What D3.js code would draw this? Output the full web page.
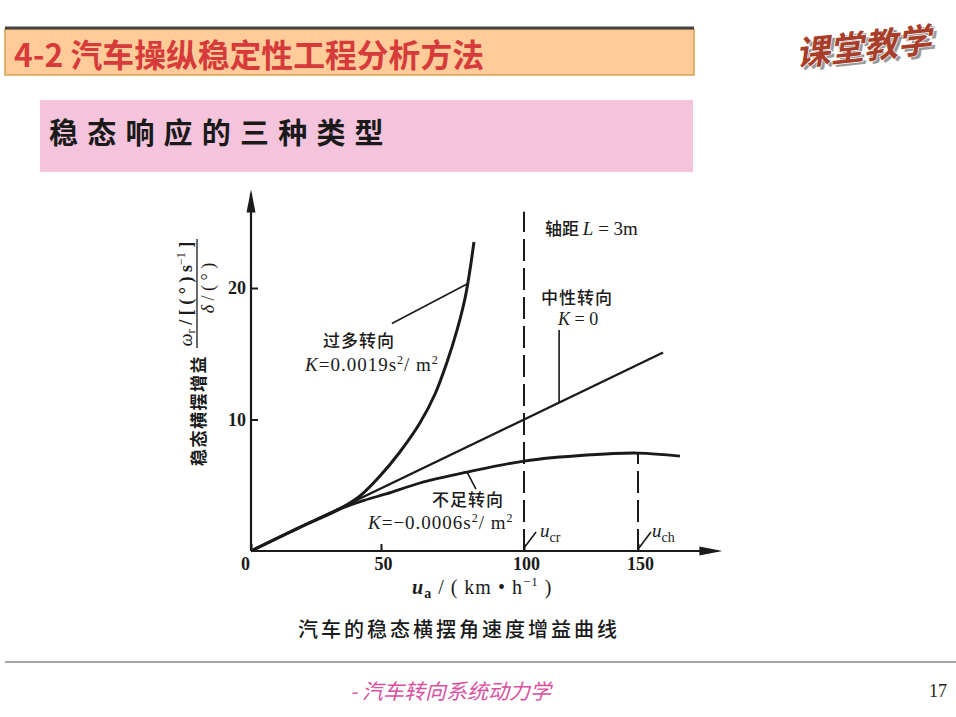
<!DOCTYPE html>
<html>
<head>
<meta charset="utf-8">
<script src="https://cdn.jsdelivr.net/npm/d3@7"></script>
<style>
body { margin: 0; background: #fff; }
svg { display: block; }
</style>
</head>
<body>
<div id="chart"></div>
<script>
// tick labels
var speedTicks = [0, 50, 100, 150];
var gainTicks = [10, 20];

// curves: speed u_a (km/h), gain (1/s)
var overSpeed = [0, 18.8, 34.2, 41.9, 49.6, 56.6, 63.6, 68.9, 73.1, 76.6, 79.4, 81.1, 82.5];
var overGain = [0, 1.8, 3.2, 4.18, 5.70, 7.53, 9.73, 11.94, 14.37, 16.81, 19.24, 21.37, 23.5];
var neutralSpeed = [0, 161];
var neutralGain = [0, 15.1];
var underSpeed = [0, 18.8, 34.2, 43.5, 52.1, 63.6, 80.1, 100, 127.6, 150, 168.4];
var underGain = [0, 1.8, 3.2, 3.85, 4.36, 5.17, 6.0, 6.84, 7.30, 7.45, 7.22];

// critical / characteristic speed markers
var critSpeed = 100;
var charSpeed = 150;
var critTop = 25.8;
var charTop = 7.45;

var width = 956, height = 717;
var ink = "#1a1a1a";
var cjk = "'Noto Sans CJK SC', 'Noto Sans', sans-serif";
var serif = "'Liberation Serif', 'DejaVu Serif', serif";

var svg = d3.select("#chart").append("svg")
    .attr("width", width)
    .attr("height", height);

/*
 * slide decoration
 */
svg.append("rect").attr("x", 5).attr("y", 29).attr("width", 689).attr("height", 46)
    .attr("fill", "#ffcc99").attr("stroke", "#d9a04e").attr("stroke-width", 1.5);
svg.append("line").attr("x1", 5).attr("x2", 694).attr("y1", 28).attr("y2", 28)
    .attr("stroke", "#444").attr("stroke-width", 3);
svg.append("text").attr("x", 14).attr("y", 67)
    .attr("textLength", 470).attr("lengthAdjust", "spacingAndGlyphs")
    .style("font-family", cjk).style("font-weight", "bold").style("font-size", "32px")
    .style("fill", "#d63a3a")
    .text("4-2 汽车操纵稳定性工程分析方法");

// logo
var logo = svg.append("g").attr("transform", "translate(797,66) rotate(-6)");
logo.append("text").attr("x", 3).attr("y", 3)
    .style("font-family", cjk).style("font-weight", "bold").style("font-size", "34px")
    .style("font-style", "italic").style("fill", "#9a9a9a")
    .text("课堂教学");
logo.append("text")
    .style("font-family", cjk).style("font-weight", "bold").style("font-size", "34px")
    .style("font-style", "italic").style("fill", "#a83e2a")
    .style("stroke", "#fff").style("stroke-width", 1.2).style("paint-order", "stroke")
    .text("课堂教学");

svg.append("rect").attr("x", 40).attr("y", 100).attr("width", 653).attr("height", 72)
    .attr("fill", "#f4c4dc");
svg.append("text").attr("x", 49).attr("y", 144)
    .style("font-family", cjk).style("font-weight", "bold").style("font-size", "29px")
    .style("letter-spacing", "9.2px").style("fill", "#1a1a1a")
    .text("稳态响应的三种类型");

svg.append("line").attr("x1", 5).attr("x2", 956).attr("y1", 662).attr("y2", 662)
    .attr("stroke", "#8a8a8a").attr("stroke-width", 1.5);
svg.append("text").attr("x", 350).attr("y", 699)
    .style("font-family", cjk).style("font-style", "italic").style("font-size", "21px")
    .style("fill", "#d9509e")
    .text("- 汽车转向系统动力学");
svg.append("text").attr("x", 929).attr("y", 697)
    .style("font-family", serif).style("font-size", "18px").style("fill", "#222")
    .text("17");

/*
 * chart
 */
// the printed axis is hand drawn, so the speed scale is piecewise
var x = d3.scaleLinear().domain(speedTicks).range([251, 381, 524, 638]);
var y = d3.scaleLinear().domain([0, 20]).range([551, 288]);

var chart = svg.append("g");

var line = d3.line()
    .x(function(d) { return x(d[0]); })
    .y(function(d) { return y(d[1]); });
var smooth = d3.line()
    .x(function(d) { return x(d[0]); })
    .y(function(d) { return y(d[1]); })
    .curve(d3.curveCatmullRom.alpha(0.5));

function zipSeries(us, gs) {
    return us.map(function(u, i) { return [u, gs[i]]; });
}

// axes lines with arrows
var xEnd = 187, yEnd = 27.5;
chart.append("line")
    .attr("x1", x(0)).attr("y1", y(0)).attr("x2", x(xEnd) - 4).attr("y2", y(0))
    .attr("stroke", ink).attr("stroke-width", 2.2);
chart.append("line")
    .attr("x1", x(0)).attr("y1", y(0)).attr("x2", x(0)).attr("y2", y(yEnd) + 4)
    .attr("stroke", ink).attr("stroke-width", 2.2);
chart.append("path")
    .attr("d", "M" + x(xEnd) + "," + y(0) + "l-23,-4.5l0,9z")
    .attr("fill", ink);
chart.append("path")
    .attr("d", "M" + x(0) + "," + y(yEnd) + "l-4.5,23l9,0z")
    .attr("fill", ink);

// tick marks and labels
var xAxis = d3.axisBottom(x).tickValues(speedTicks).tickSizeInner(-7).tickSizeOuter(0)
    .tickPadding(6).tickFormat(d3.format("d"));
var gx = chart.append("g").attr("transform", "translate(0," + y(0) + ")").call(xAxis);
gx.select(".domain").remove();
gx.selectAll(".tick line").attr("stroke", ink).attr("stroke-width", 2);
gx.selectAll(".tick text")
    .attr("dx", function(d) { return d === 0 ? -6 : 2; })
    .style("font-family", serif).style("font-weight", "bold").style("font-size", "18px")
    .style("fill", ink);

var yAxis = d3.axisLeft(y).tickValues(gainTicks).tickSizeInner(-7).tickSizeOuter(0)
    .tickPadding(5).tickFormat(d3.format("d"));
var gy = chart.append("g").attr("transform", "translate(" + x(0) + ",0)").call(yAxis);
gy.select(".domain").remove();
gy.selectAll(".tick line").attr("stroke", ink).attr("stroke-width", 2);
gy.selectAll(".tick text")
    .style("font-family", serif).style("font-weight", "bold").style("font-size", "18px")
    .style("fill", ink);

// dashed speed markers
chart.append("path")
    .attr("d", line([[critSpeed, 0], [critSpeed, critTop]]))
    .attr("fill", "none").attr("stroke", ink).attr("stroke-width", 2)
    .attr("stroke-dasharray", "22,7");
chart.append("path")
    .attr("d", line([[charSpeed, 0], [charSpeed, charTop]]))
    .attr("fill", "none").attr("stroke", ink).attr("stroke-width", 2)
    .attr("stroke-dasharray", "22,7");

// response curves
chart.append("path").attr("d", line(zipSeries(neutralSpeed, neutralGain)))
    .attr("fill", "none").attr("stroke", ink).attr("stroke-width", 2.3);
chart.append("path").attr("d", smooth(zipSeries(underSpeed, underGain)))
    .attr("fill", "none").attr("stroke", ink).attr("stroke-width", 2.8);
chart.append("path").attr("d", smooth(zipSeries(overSpeed, overGain)))
    .attr("fill", "none").attr("stroke", ink).attr("stroke-width", 3);

// leader lines (data units)
var leaders = [
    [[53.8, 17.3], [80.1, 20.3]],
    [[115.4, 16.8], [115.4, 11.25]],
    [[80.1, 6.0], [83.2, 4.71]],
    [[100, 0.23], [105.3, 1.44]],
    [[150.4, 0.23], [155.7, 1.44]]
];
chart.selectAll(".leader").data(leaders).enter().append("path")
    .attr("class", "leader")
    .attr("d", function(d) { return line(d); })
    .attr("stroke", ink).attr("stroke-width", 1.6);

// annotation text helpers
function cjkLabel(px, py, str, anchor) {
    return chart.append("text").attr("x", px).attr("y", py)
        .attr("text-anchor", anchor || "middle")
        .style("font-family", cjk).style("font-weight", 500).style("font-size", "17px")
        .style("letter-spacing", "1px")
        .style("fill", ink).text(str);
}
function kLabel(px, py, value) {
    var t = chart.append("text").attr("x", px).attr("y", py)
        .style("font-family", serif).style("font-size", "19px").style("letter-spacing", "1px")
        .style("fill", ink);
    t.append("tspan").style("font-style", "italic").text("K");
    t.append("tspan").text("=" + value + "s");
    t.append("tspan").attr("dy", -7).style("font-size", "12px").text("2");
    t.append("tspan").attr("dy", 7).text("/ m");
    t.append("tspan").attr("dy", -7).style("font-size", "12px").text("2");
    return t;
}

cjkLabel(359, 347, "过多转向");
kLabel(305, 371, "0.0019");

cjkLabel(468, 506, "不足转向");
kLabel(368, 529, "−0.0006");

cjkLabel(577, 304, "中性转向");
var k0 = chart.append("text").attr("x", 558).attr("y", 325)
    .style("font-family", serif).style("font-size", "18px").style("fill", ink);
k0.append("tspan").style("font-style", "italic").text("K");
k0.append("tspan").text(" = 0");

var wb = chart.append("text").attr("x", 545).attr("y", 235)
    .style("font-family", cjk).style("font-weight", 500).style("font-size", "17px")
    .style("fill", ink);
wb.append("tspan").text("轴距 ");
wb.append("tspan").style("font-family", serif).style("font-style", "italic")
    .style("font-size", "19px").text("L");
wb.append("tspan").style("font-family", serif).style("font-size", "19px").text(" = 3m");

function speedMark(px, py, sub) {
    var t = chart.append("text").attr("x", px).attr("y", py)
        .style("font-family", serif).style("fill", ink);
    t.append("tspan").style("font-style", "italic").style("font-size", "19px").text("u");
    t.append("tspan").attr("dy", 5).style("font-size", "14px").text(sub);
}
speedMark(540, 537, "cr");
speedMark(652, 537, "ch");

// x axis title
var xt = chart.append("text").attr("x", 412).attr("y", 594)
    .style("font-family", serif).style("font-size", "20px").style("letter-spacing", "1px")
    .style("fill", ink);
xt.append("tspan").style("font-style", "italic").style("font-weight", "bold").text("u");
xt.append("tspan").attr("dy", 4).style("font-size", "14px").style("font-weight", "bold").text("a");
xt.append("tspan").attr("dy", -4).text(" / ( km • h");
xt.append("tspan").attr("dy", -8).style("font-size", "13px").text("−1");
xt.append("tspan").attr("dy", 8).text(" )");

// y axis title, rotated
var yt = chart.append("g").attr("transform", "translate(198,466) rotate(-90)");
yt.append("text").attr("x", 0).attr("y", 7)
    .style("font-family", cjk).style("font-weight", "bold").style("font-size", "17px")
    .style("letter-spacing", "1.5px").style("fill", ink)
    .text("稳态横摆增益");
var num = yt.append("text").attr("x", 172).attr("y", -6).attr("text-anchor", "middle")
    .style("font-family", serif).style("font-size", "18px").style("fill", ink);
num.append("tspan").style("font-style", "italic").text("ω");
num.append("tspan").attr("dy", 3).style("font-size", "13px").text("r");
num.append("tspan").attr("dy", -3).style("font-weight", "bold").text(" / [ ( ° ) s");
num.append("tspan").attr("dy", -7).style("font-size", "12px").text("−1");
num.append("tspan").attr("dy", 7).style("font-weight", "bold").text(" ]");
yt.append("line").attr("x1", 118).attr("x2", 227).attr("y1", -1).attr("y2", -1)
    .attr("stroke", ink).attr("stroke-width", 1.3);
var den = yt.append("text").attr("x", 178).attr("y", 16).attr("text-anchor", "middle")
    .style("font-family", serif).style("font-size", "18px").style("fill", ink);
den.append("tspan").style("font-style", "italic").text("δ");
den.append("tspan").text(" / ( ° )");

// caption
chart.append("text").attr("x", 459).attr("y", 637).attr("text-anchor", "middle")
    .style("font-family", cjk).style("font-weight", 500).style("font-size", "20px")
    .style("letter-spacing", "3px").style("fill", ink)
    .text("汽车的稳态横摆角速度增益曲线");
</script>
</body>
</html>
